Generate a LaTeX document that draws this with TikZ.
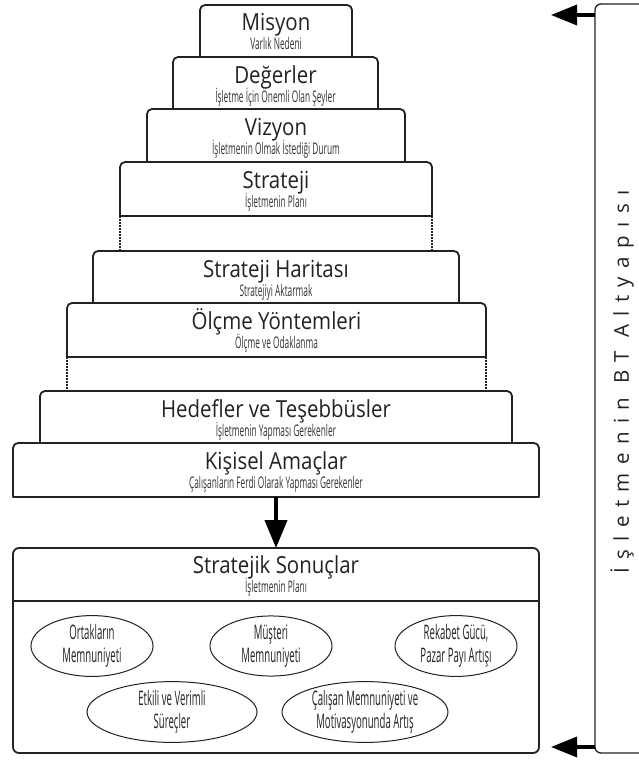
\documentclass[tikz,border=0pt]{standalone}
\usepackage{fontspec}
\setmainfont{Open Sans}
\newfontfamily\titlefont[FakeStretch=0.87]{Open Sans}
\newfontfamily\subfont[FakeStretch=0.52]{Open Sans}
\newfontfamily\goalfont[FakeStretch=0.48]{Open Sans}
\newfontfamily\sidefont[LetterSpace=41]{Open Sans}
\usetikzlibrary{arrows.meta,shapes.geometric}

\definecolor{ink}{HTML}{222222}
\definecolor{subink}{HTML}{333333}

% one tier of the pyramid: name, left x, right x, top y, bottom y, title, subtitle
\newcommand\tier[7]{%
  \draw[tierline] (#2,#5) -- (#2,#4+5) arc (180:270:5) -- (#3-5,#4)
        arc (270:360:5) -- (#3,#5) -- cycle;
  \node[tiertitle] (#1) at ({(#2+#3)/2},#4+26) {#6};
  \node[tiersub] (#1-sub) at ({(#2+#3)/2},#4+45) {#7};
}

\begin{document}
\begin{tikzpicture}[x=1pt,y=-1pt,
  tierline/.style={draw=ink, line width=1.8pt, line join=round},
  tiertitle/.style={anchor=base, text=ink, inner sep=0pt,
    font=\titlefont\fontsize{23.5}{25}\selectfont},
  tiersub/.style={anchor=base, text=subink, inner sep=0pt,
    font=\subfont\fontsize{16}{17}\selectfont},
  gapline/.style={draw=ink, line width=2.6pt, dash pattern=on 1.8pt off 1.2pt},
  goal/.style={ellipse, draw=ink, line width=1pt, minimum height=54pt,
    inner sep=0pt, align=center, text=ink,
    font=\goalfont\fontsize{20}{23}\selectfont},
  flowarrow/.style={draw=black, line width=4pt,
    -{Triangle[length=28pt,width=22pt]}},
  sidearrow/.style={draw=black, line width=3.5pt,
    -{Triangle[length=26pt,width=20pt]}},
  bracket/.style={draw=ink, line width=1.3pt, rounded corners=6pt},
]
\useasboundingbox (0,0) rectangle (638,760);

% pyramid tiers
\tier{misyon}{200}{352}{5}{57}{Misyon}{Varlık Nedeni}
\tier{degerler}{173}{378}{57}{109}{Değerler}{İşletme İçin Önemli Olan Şeyler}
\tier{vizyon}{147}{405}{109}{162}{Vizyon}{İşletmenin Olmak İstediği Durum}
\tier{strateji}{120}{432}{162}{216}{Strateji}{İşletmenin Planı}
\tier{harita}{93}{459}{251}{303}{Strateji Haritası}{Stratejiyi Aktarmak}
\tier{olcme}{67}{486}{303}{357}{Ölçme Yöntemleri}{Ölçme ve Odaklanma}
\tier{hedef}{40}{512}{391}{443}{Hedefler ve Teşebbüsler}{İşletmenin Yapması Gerekenler}
\tier{kisisel}{13}{539}{443}{497}{Kişisel Amaçlar}{Çalışanların Ferdi Olarak Yapması Gerekenler}

% dotted links across the gaps
\coordinate (g1a) at (120,216); \coordinate (g1b) at (120,251);
\coordinate (g1c) at (432,216); \coordinate (g1d) at (432,251);
\coordinate (g2a) at (67,357);  \coordinate (g2b) at (67,391);
\coordinate (g2c) at (486,357); \coordinate (g2d) at (486,391);
\draw[gapline] (g1a) -- (g1b);
\draw[gapline] (g1c) -- (g1d);
\draw[gapline] (g2a) -- (g2b);
\draw[gapline] (g2c) -- (g2d);

% strategic results box
\draw[tierline, rounded corners=6pt] (13,548) rectangle (539,753);
\draw[tierline] (13,601) -- (539,601);
\node[tiertitle] (sonuc) at (276,573) {Stratejik Sonuçlar};
\node[tiersub] (sonuc-sub) at (276,592) {İşletmenin Planı};

\node[goal, minimum width=122pt] (ortak) at (92,646) {Ortakların\\Memnuniyeti};
\node[goal, minimum width=122pt] (musteri) at (271,646) {Müşteri\\Memnuniyeti};
\node[goal, minimum width=122pt] (rekabet) at (456,646) {Rekabet Gücü,\\Pazar Payı Artışı};
\node[goal, minimum width=170pt] (surec) at (172,712) {Etkili ve Verimli\\Süreçler};
\node[goal, minimum width=166pt] (calisan) at (365,712) {Çalışan Memnuniyeti ve\\Motivasyonunda Artış};

% flow from personal goals to results
\coordinate (kisisel-bot) at (276,497);
\coordinate (sonuc-top) at (276,548);
\draw[flowarrow] (kisisel-bot) -- (sonuc-top);

% IT infrastructure bracket
\draw[bracket] (660,4) -- (595,4) -- (595,753) -- (660,753);
\coordinate (bt-top) at (595,15);
\coordinate (bt-bot) at (595,747);
\coordinate (bt-top-end) at (551,15);
\coordinate (bt-bot-end) at (551,747);
\draw[sidearrow] (bt-top) -- (bt-top-end);
\draw[sidearrow] (bt-bot) -- (bt-bot-end);
\node[rotate=90, text=ink, inner sep=0pt, font=\sidefont\fontsize{20.5}{22}\selectfont]
  (bt) at (622,382) {İşletmenin BT Altyapısı};
\end{tikzpicture}
\end{document}
